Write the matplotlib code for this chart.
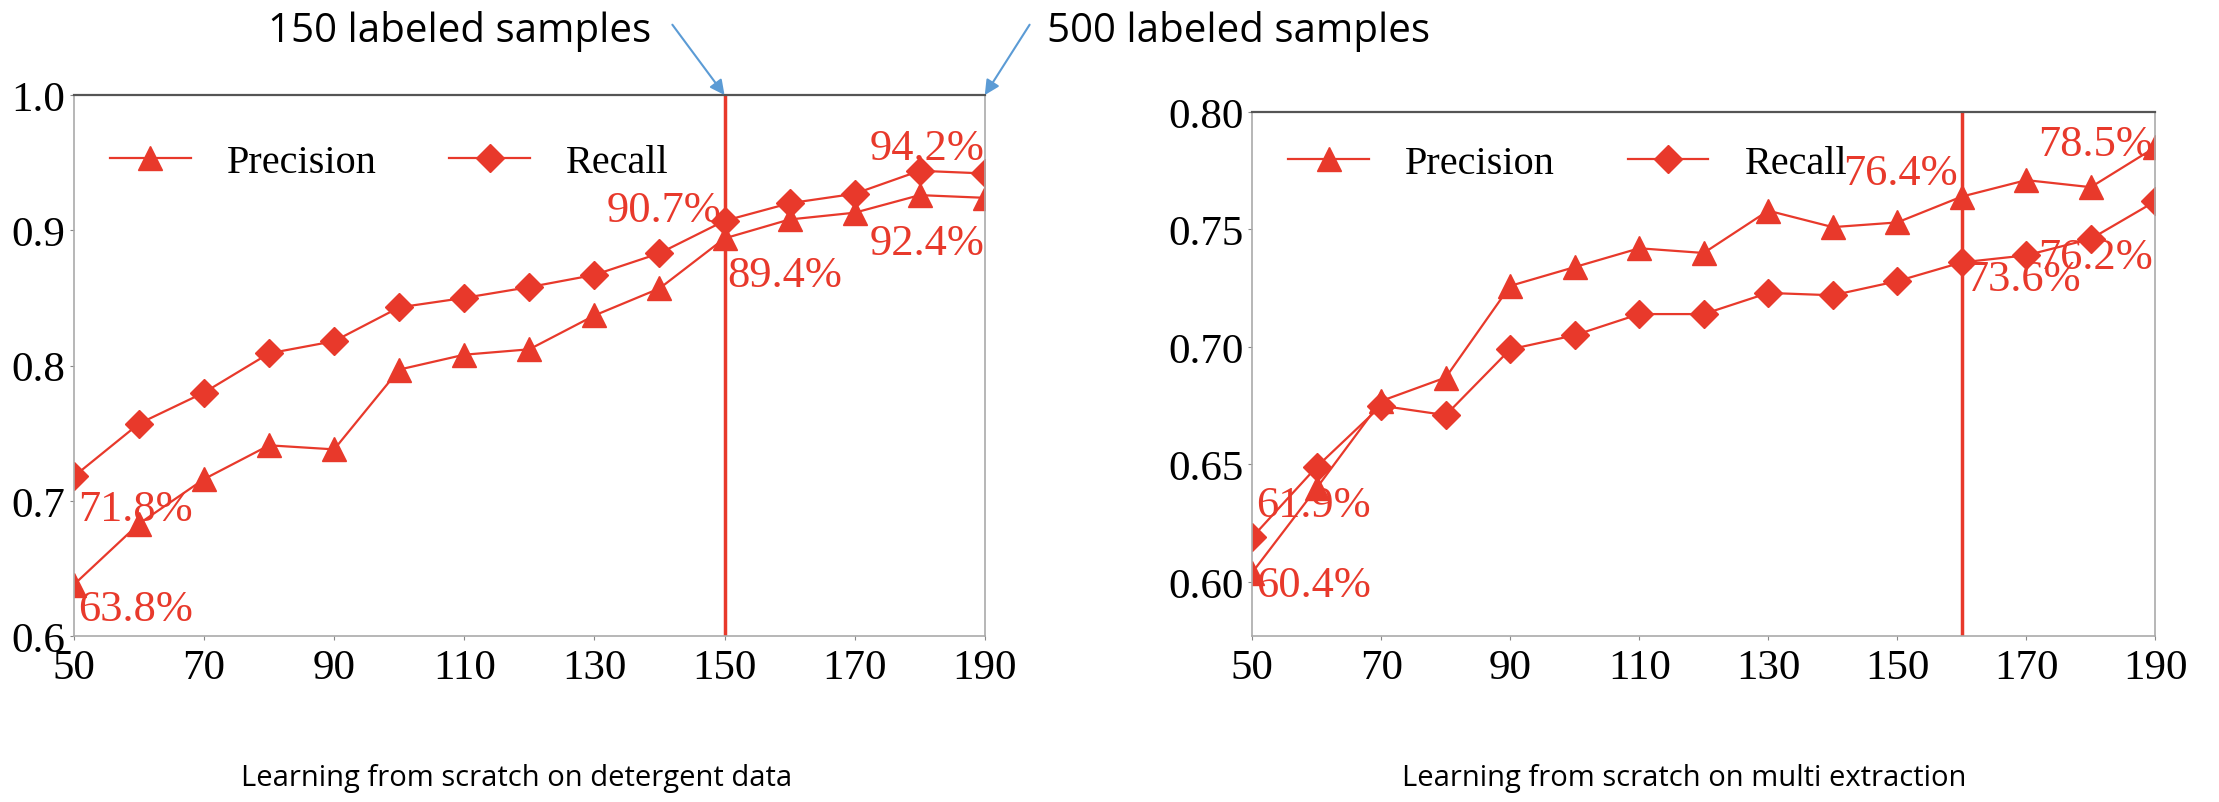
import matplotlib
matplotlib.use('Agg')
import matplotlib.pyplot as plt
import numpy as np

# %%
# sample counts on the x axis
steps = [50, 60, 70, 80, 90, 100, 110, 120, 130, 140, 150, 160, 170, 180, 190]

# learning from scratch on detergent data
det_precision = [0.638, 0.683, 0.716, 0.741, 0.738, 0.797, 0.808, 0.812,
                 0.837, 0.857, 0.894, 0.908, 0.913, 0.926, 0.924]
det_recall = [0.718, 0.757, 0.780, 0.809, 0.818, 0.843, 0.850, 0.858,
              0.867, 0.883, 0.907, 0.920, 0.927, 0.944, 0.942]
det_marker_x = 150

# learning from scratch on multi extraction
mul_precision = [0.604, 0.640, 0.677, 0.687, 0.726, 0.734, 0.742, 0.740,
                 0.758, 0.751, 0.753, 0.764, 0.771, 0.768, 0.785]
mul_recall = [0.619, 0.649, 0.675, 0.671, 0.699, 0.705, 0.714, 0.714,
              0.723, 0.722, 0.728, 0.736, 0.739, 0.746, 0.762]
mul_marker_x = 160

# value labels: (text, x, y)
det_labels = [('94.2%', 190, 0.942), ('92.4%', 190, 0.924),
              ('90.7%', 150, 0.907), ('89.4%', 150, 0.894),
              ('71.8%', 50, 0.718), ('63.8%', 50, 0.638)]
mul_labels = [('78.5%', 190, 0.785), ('76.2%', 190, 0.762),
              ('76.4%', 160, 0.764), ('73.6%', 160, 0.736),
              ('61.9%', 50, 0.619), ('60.4%', 50, 0.604)]

captions = ['Learning from scratch on detergent data',
            'Learning from scratch on multi extraction']
top_notes = ['150 labeled samples', '500 labeled samples']

# %%
RED = '#e8392b'
BLUE = '#5b9bd5'
SERIF = ['Liberation Serif', 'DejaVu Serif']
SANS = ['Open Sans', 'DejaVu Sans']

fig = plt.figure(figsize=(22.19, 8.03), dpi=100)
ax1 = fig.add_axes([0.0333, 0.2067, 0.4105, 0.6737])
ax2 = fig.add_axes([0.5643, 0.2067, 0.4070, 0.6526])


def draw_panel(ax, prec, rec, vline, ylim, yticks, yfmt, leg_y):
    ax.plot(steps, prec, color=RED, lw=1.6, marker='^', ms=17,
            label='Precision')
    ax.plot(steps, rec, color=RED, lw=1.6, marker='D', ms=14,
            label='Recall')
    ax.axvline(vline, color=RED, lw=2.5)
    ax.set_xlim(50, 190)
    ax.set_ylim(*ylim)
    ax.set_xticks(range(50, 191, 20))
    ax.set_yticks(yticks)
    ax.set_yticklabels([yfmt % t for t in yticks])
    for lab in ax.get_xticklabels() + ax.get_yticklabels():
        lab.set_family(SERIF)
        lab.set_fontsize(31)
    ax.tick_params(axis='x', length=3, pad=6, color='#888888')
    ax.tick_params(axis='y', length=3, pad=3, color='#888888')
    for side in ['left', 'right', 'bottom']:
        ax.spines[side].set_color('#aaaaaa')
        ax.spines[side].set_linewidth(1.2)
    ax.spines['top'].set_color('#555555')
    ax.spines['top'].set_linewidth(1.6)
    leg = ax.legend(loc='upper left', ncol=2, frameon=False,
                    prop={'family': SERIF, 'size': 29},
                    handlelength=2.0, handletextpad=0.9, columnspacing=1.8,
                    bbox_to_anchor=(0.0, leg_y))
    return leg


draw_panel(ax1, det_precision, det_recall, det_marker_x,
           (0.6, 1.0), [0.6, 0.7, 0.8, 0.9, 1.0], '%.1f', 0.977)
draw_panel(ax2, mul_precision, mul_recall, mul_marker_x,
           (0.577, 0.80), [0.60, 0.65, 0.70, 0.75, 0.80], '%.2f', 1.006)

# label placement: (dx, dy, ha, va) in points
det_place = [(0, 4, 'right', 'bottom'), (0, -18, 'right', 'top'),
             (-2, 8, 'right', 'center'), (2, -12, 'left', 'top'),
             (3, -9, 'left', 'top'), (3, -3, 'left', 'top')]
mul_place = [(-2, 2, 'right', 'center'), (-2, -40, 'right', 'center'),
             (-3, 17, 'right', 'center'), (3, -12, 'left', 'center'),
             (3, 23, 'left', 'center'), (3, -9, 'left', 'center')]

for ax, labels, place in [(ax1, det_labels, det_place),
                          (ax2, mul_labels, mul_place)]:
    for (txt, x, y), (dx, dy, ha, va) in zip(labels, place):
        ax.annotate(txt, (x, y), xytext=(dx, dy), textcoords='offset points',
                    ha=ha, va=va, color=RED, fontsize=32, family=SERIF)

# notes with arrows above the first panel
fig.text(0.2935, 0.961, top_notes[0], ha='right', va='center',
         fontsize=29, family=SANS)
fig.text(0.4720, 0.961, top_notes[1], ha='left', va='center',
         fontsize=29, family=SANS)
arrow = dict(arrowstyle='-|>', color=BLUE, lw=1.5, mutation_scale=22,
             shrinkA=0, shrinkB=0)
ax1.annotate('', xy=(150, 1.0), xytext=(0.303, 0.968),
             textcoords='figure fraction', arrowprops=arrow,
             annotation_clip=False)
ax1.annotate('', xy=(190, 1.0), xytext=(0.464, 0.968),
             textcoords='figure fraction', arrowprops=arrow,
             annotation_clip=False)

fig.text(0.2328, 0.031, captions[0], ha='center', va='center',
         fontsize=21, family=SANS)
fig.text(0.7590, 0.031, captions[1], ha='center', va='center',
         fontsize=21, family=SANS)

fig.savefig('out.png', dpi=100)
